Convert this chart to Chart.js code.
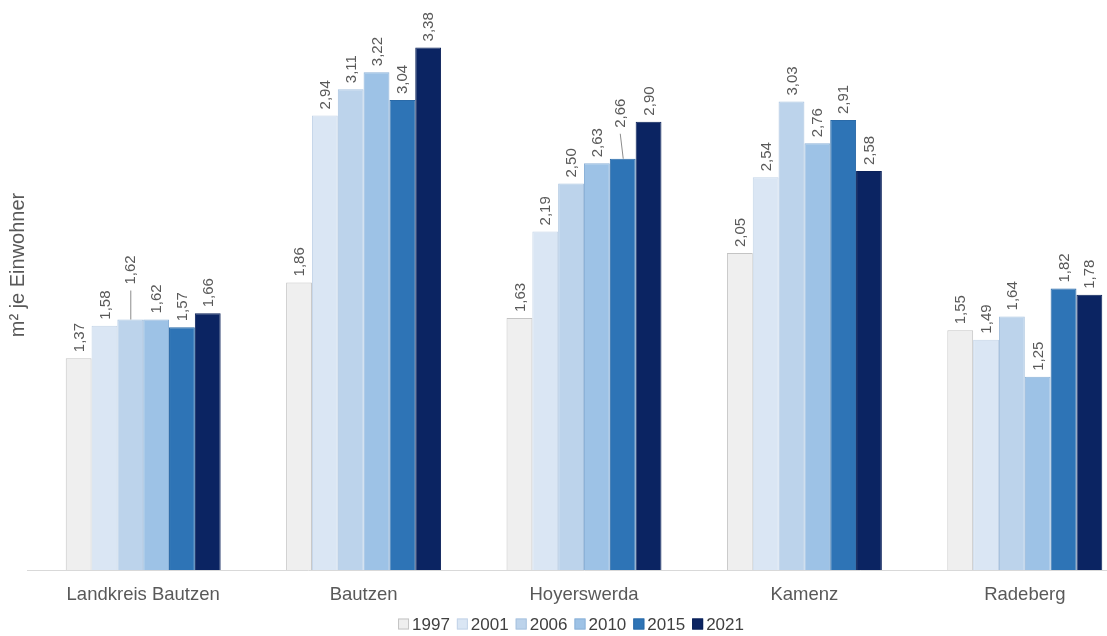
<!DOCTYPE html>
<html lang="de">
<head>
<meta charset="utf-8">
<title>m² je Einwohner</title>
<script src="https://cdn.jsdelivr.net/npm/chart.js@4.4.1/dist/chart.umd.min.js"></script>
<style>
  html, body { margin: 0; padding: 0; background: #ffffff; overflow: hidden; }
  #wrap { position: relative; width: 1140px; height: 636px; }
</style>
</head>
<body>
<div id="wrap"><canvas id="chart" width="1140" height="636"></canvas></div>
<script>
// Verkaufsfläche in m² je Einwohner
const categories = ['Landkreis Bautzen', 'Bautzen', 'Hoyerswerda', 'Kamenz', 'Radeberg'];
const years = ['1997', '2001', '2006', '2010', '2015', '2021'];

const values1997 = [1.37, 1.86, 1.63, 2.05, 1.55];
const values2001 = [1.58, 2.94, 2.19, 2.54, 1.49];
const values2006 = [1.62, 3.11, 2.50, 3.03, 1.64];
const values2010 = [1.62, 3.22, 2.63, 2.76, 1.25];
const values2015 = [1.57, 3.04, 2.66, 2.91, 1.82];
const values2021 = [1.66, 3.38, 2.90, 2.58, 1.78];

const series = [values1997, values2001, values2006, values2010, values2015, values2021];
const fills   = ['#efefef', '#dae6f4', '#bcd3eb', '#9dc2e6', '#2e74b6', '#0b2462'];
const borders = ['#c4c4c4', '#c3d4e8', '#a9c3df', '#8cb2d8', '#2a6aa8', '#0a2159'];

const FONT = '"Liberation Sans", Arial, sans-serif';
const TEXT = '#595959';

// Labels whose text is lifted above the bar with a connector line
const liftedLabels = [
  { dataset: 2, index: 0, lift: 35, shift: 0 },
  { dataset: 4, index: 2, lift: 31, shift: -3 }
];

const valueLabels = {
  id: 'valueLabels',
  afterDatasetsDraw(chart) {
    const ctx = chart.ctx;
    ctx.save();
    ctx.font = '15px ' + FONT;
    ctx.fillStyle = TEXT;
    ctx.textAlign = 'left';
    ctx.textBaseline = 'middle';
    chart.data.datasets.forEach((ds, di) => {
      const meta = chart.getDatasetMeta(di);
      meta.data.forEach((bar, i) => {
        const v = ds.data[i];
        const txt = v.toFixed(2).replace('.', ',');
        const spec = liftedLabels.find(l => l.dataset === di && l.index === i);
        let x = bar.x, y = bar.y - 6;
        if (spec) {
          x = bar.x + spec.shift;
          y = bar.y - spec.lift;
          ctx.save();
          ctx.strokeStyle = '#8c8c8c';
          ctx.lineWidth = 1;
          ctx.beginPath();
          ctx.moveTo(bar.x + 0.5, bar.y);
          ctx.lineTo(x + 0.5, y + 6);
          ctx.stroke();
          ctx.restore();
        }
        ctx.save();
        ctx.translate(x + 1, y);
        ctx.rotate(-Math.PI / 2);
        ctx.fillText(txt, 0, 0);
        ctx.restore();
      });
    });
    ctx.restore();
  }
};

// Axis title and legend row
const frame = {
  id: 'frame',
  afterDraw(chart) {
    const ctx = chart.ctx;
    ctx.save();
    ctx.fillStyle = TEXT;
    ctx.font = '20px ' + FONT;
    ctx.textAlign = 'center';
    ctx.textBaseline = 'middle';
    ctx.translate(18, 265);
    ctx.rotate(-Math.PI / 2);
    ctx.fillText('m² je Einwohner', 0, 0);
    ctx.restore();

    ctx.save();
    ctx.font = '17px ' + FONT;
    ctx.textBaseline = 'middle';
    ctx.textAlign = 'left';
    const box = 11, gapText = 3, gapItem = 7;
    const widths = years.map(y => box + gapText + ctx.measureText(y).width);
    const total = widths.reduce((a, b) => a + b, 0) + gapItem * (years.length - 1);
    let x = 571 - total / 2;
    const cy = 624;
    years.forEach((y, i) => {
      ctx.fillStyle = fills[i];
      ctx.fillRect(x, cy - box / 2, box, box);
      ctx.strokeStyle = borders[i];
      ctx.lineWidth = 1;
      ctx.strokeRect(x + 0.5, cy - box / 2 + 0.5, box - 1, box - 1);
      ctx.fillStyle = '#404040';
      ctx.fillText(y, x + box + gapText, cy + 1);
      x += widths[i] + gapItem;
    });
    ctx.restore();

    // baseline extends slightly left of the first category
    const area = chart.chartArea;
    ctx.save();
    ctx.strokeStyle = '#d9d9d9';
    ctx.lineWidth = 1;
    ctx.beginPath();
    ctx.moveTo(27, area.bottom + 0.5);
    ctx.lineTo(area.left, area.bottom + 0.5);
    ctx.stroke();
    ctx.restore();
  }
};

new Chart(document.getElementById('chart'), {
  type: 'bar',
  data: {
    labels: categories,
    datasets: years.map((y, i) => ({
      label: y,
      data: series[i],
      backgroundColor: fills[i],
      borderColor: borders[i],
      borderWidth: 1,
      categoryPercentage: 0.703,
      barPercentage: 1.0
    }))
  },
  options: {
    responsive: false,
    animation: false,
    layout: { padding: { left: 33, right: 5, top: 10, bottom: 28 } },
    plugins: {
      legend: { display: false },
      tooltip: { enabled: false }
    },
    scales: {
      x: {
        grid: { display: false, drawTicks: false },
        border: { display: true, color: '#d9d9d9', width: 1 },
        ticks: { color: TEXT, font: { family: FONT, size: 18.5 }, padding: 14, maxRotation: 0 },
        afterFit(scale) { scale.height = 38; }
      },
      y: {
        display: false,
        min: 0,
        max: 3.622
      }
    }
  },
  plugins: [valueLabels, frame]
});
</script>
</body>
</html>
